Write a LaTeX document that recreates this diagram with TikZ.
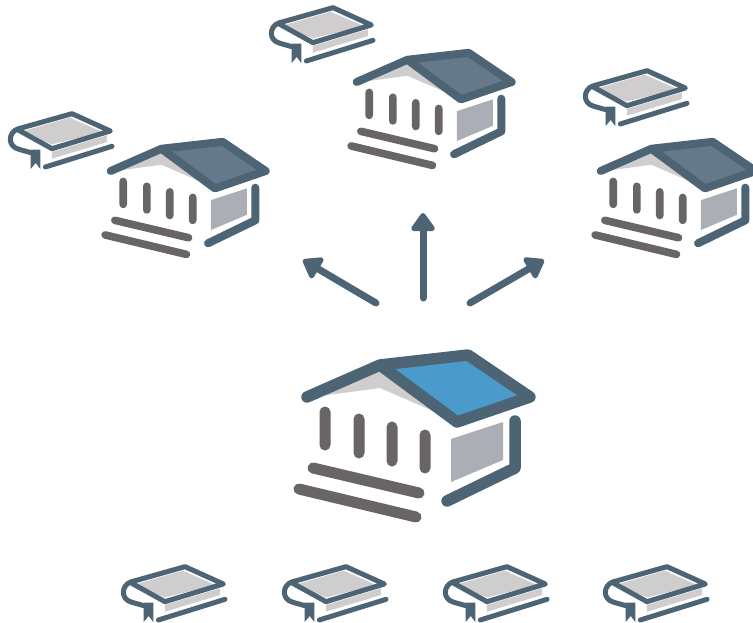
\documentclass[tikz,border=0pt]{standalone}
\usetikzlibrary{arrows.meta}
\definecolor{slate}{HTML}{4D6475}
\definecolor{skyroof}{HTML}{4A9BCC}
\definecolor{duskroof}{HTML}{65798A}
\definecolor{gable}{HTML}{CFCDCE}
\definecolor{stone}{HTML}{696466}
\definecolor{wallgray}{HTML}{ABAEB5}
\tikzset{
  connector/.style={draw=slate,line width=7pt,line cap=round,
    -{Triangle[length=20pt,width=27pt,round]}},
  bookline/.style={draw=slate,line width=5pt,line cap=round,line join=round},
}
\newcommand{\drawhouse}[4]{% x y scale roof-fill
  \begin{scope}[shift={(#1,#2)},scale=#3,shift={(-306,-397)},line cap=round,line join=round]
    \fill[gable] (313,397) -- (380,371) -- (440,414) -- (380,388) -- cycle;
    \fill[#4] (380,365) -- (468,355) -- (530,397) -- (457,422) -- cycle;
    \fill[wallgray] (451,439) -- (503,422) -- (503,460) -- (451,482) -- cycle;
    \draw[stone,line width=11*#3 pt]
      (325,412) -- (325,445) (359,419) -- (359,453)
      (392,427) -- (392,461) (425,435) -- (425,468)
      (313,468) -- (419,493) (299,489) -- (416,517);
    \draw[slate,line width=11.5*#3 pt]
      (307,397) -- (380,365) -- (468,355) -- (530,397) -- (457,422) -- (380,365);
    \draw[slate,line width=11.5*#3 pt] (515,421) -- (515,468) -- (447,501);
  \end{scope}
}
\newcommand{\drawbook}[2]{%
  \begin{scope}[shift={(#1,#2)},scale=0.3333]
    \fill[gable] (70,75) -- (218,32) -- (316,75) -- (165,112) -- cycle;
    \fill[gable] (165,135) -- (330,85) -- (330,105) -- (165,155) -- cycle;
    \fill[slate] (101,128) -- (101,186) -- (116,168) -- (130,186) -- (130,128) -- cycle;
    \draw[bookline] (165,125) -- (340,72) -- (225,20) -- (62,66)
      .. controls (34,76) and (30,118) .. (66,127) -- (105,138);
    \draw[bookline] (62,68) -- (165,125);
    \draw[bookline] (345,118) -- (145,180);
  \end{scope}
}
\begin{document}
\begin{tikzpicture}[x=1pt,y=-1pt]
  \useasboundingbox (0,0) rectangle (753,623);
  \clip (0,0) rectangle (753,623);
  % books
  \drawbook{110}{560}
  \drawbook{271}{560}
  \drawbook{432}{560}
  \drawbook{592}{560}
  \drawbook{-3}{107}
  \drawbook{258}{1}
  \drawbook{572}{64}
  % houses
  \drawhouse{306}{397}{1}{skyroof}
  \drawhouse{110}{171}{0.695}{duskroof}
  \drawhouse{356}{82}{0.695}{duskroof}
  \drawhouse{600}{171}{0.695}{duskroof}
  % arrows
  \coordinate (ls) at (376,303); \coordinate (le) at (303,260);
  \coordinate (cs) at (423,298); \coordinate (ce) at (423,213);
  \coordinate (rs) at (470,303); \coordinate (re) at (544,260);
  \draw[connector] (ls) -- (le);
  \draw[connector] (cs) -- (ce);
  \draw[connector] (rs) -- (re);
\end{tikzpicture}
\end{document}
